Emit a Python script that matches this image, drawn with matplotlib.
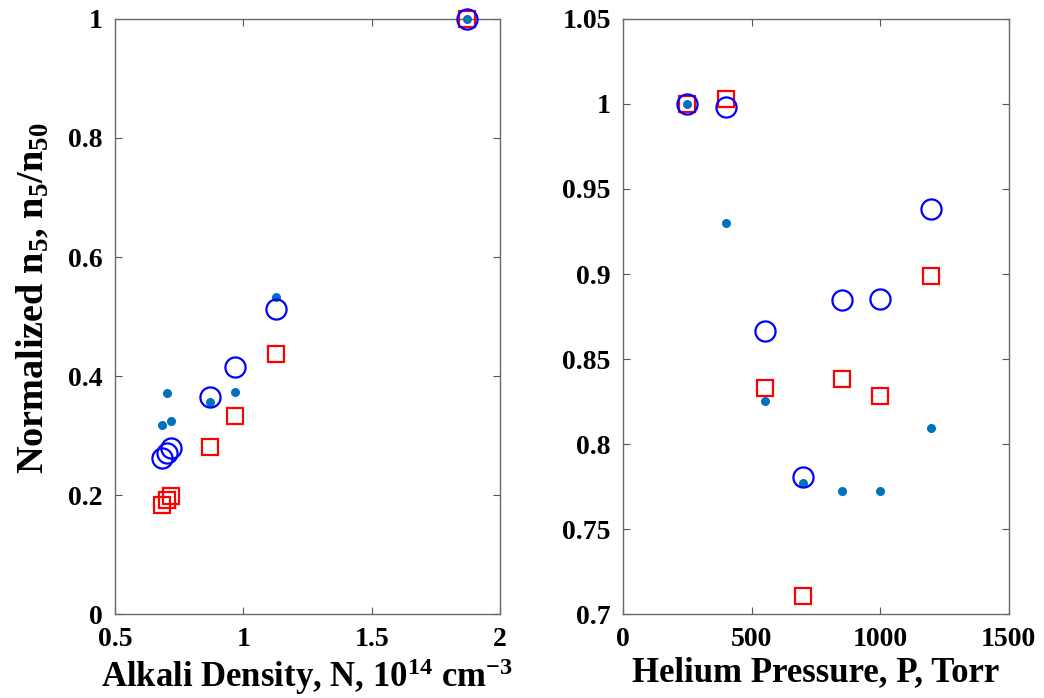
import matplotlib
matplotlib.use('Agg')
import matplotlib.pyplot as plt
from matplotlib.ticker import FuncFormatter

matplotlib.rcParams['mathtext.default'] = 'regular'
plt.rc('font', family='Liberation Serif', weight='bold', size=19)
plt.rc('axes', labelweight='bold')

# left panel: vs alkali density
density = [0.685, 0.702, 0.718, 0.872, 0.966, 1.129, 1.870]
dens_circles = [0.263, 0.270, 0.279, 0.365, 0.416, 0.512, 1.0]
dens_squares = [0.183, 0.192, 0.198, 0.281, 0.333, 0.437, 1.0]
dens_dots = [0.318, 0.372, 0.325, 0.357, 0.373, 0.532, 1.0]

# right panel: vs helium pressure
pressure = [250, 400, 550, 700, 850, 1000, 1200]
pres_circles = [1.0, 0.998, 0.8665, 0.7805, 0.885, 0.8855, 0.938]
pres_squares = [1.0, 1.003, 0.833, 0.711, 0.838, 0.828, 0.899]
pres_dots = [1.0, 0.930, 0.8255, 0.777, 0.7725, 0.7725, 0.8094]

fig = plt.figure(figsize=(10.44, 6.98), dpi=100)
ax1 = fig.add_axes([0.110, 0.120, 0.369, 0.853])
ax2 = fig.add_axes([0.597, 0.120, 0.369, 0.853])

fmt = FuncFormatter(lambda v, pos: f'{v:g}')

def draw(ax, x, dots, squares, circles):
    ax.plot(x, dots, 'o', color='#0072BD', ms=6.5, mec='none', clip_on=False, zorder=3)
    ax.plot(x, squares, 's', mfc='none', mec='red', ms=11, mew=1.6, clip_on=False, zorder=4)
    ax.plot(x, circles, 'o', mfc='none', mec='blue', ms=14.5, mew=1.6, clip_on=False, zorder=5)
    ax.tick_params(direction='in', top=True, right=True, length=5, width=0.8,
                   color='#555555', labelsize=20, pad=9)
    for s in ax.spines.values():
        s.set_color('#6a6a6a')
        s.set_linewidth(1.0)
    ax.xaxis.set_major_formatter(fmt)
    ax.yaxis.set_major_formatter(fmt)

draw(ax1, density, dens_dots, dens_squares, dens_circles)
ax1.set_xlim(0.5, 2)
ax1.set_ylim(0, 1)
ax1.set_xticks([0.5, 1, 1.5, 2])
ax1.set_yticks([0, 0.2, 0.4, 0.6, 0.8, 1])
ax1.set_xlabel('Alkali Density, N, 10$^{14}$ cm$^{-3}$', fontsize=25, labelpad=3)
ax1.set_ylabel('Normalized n$_5$, n$_5$/n$_{50}$', fontsize=27.5)
ax1.yaxis.set_label_coords(-0.165, 0.53)

draw(ax2, pressure, pres_dots, pres_squares, pres_circles)
ax2.set_xlim(0, 1500)
ax2.set_ylim(0.7, 1.05)
ax2.set_xticks([0, 500, 1000, 1500])
ax2.set_yticks([0.7, 0.75, 0.8, 0.85, 0.9, 0.95, 1, 1.05])
ax2.set_xlabel('Helium Pressure, P, Torr', fontsize=25, labelpad=3)

plt.savefig('out.png', dpi=100)
